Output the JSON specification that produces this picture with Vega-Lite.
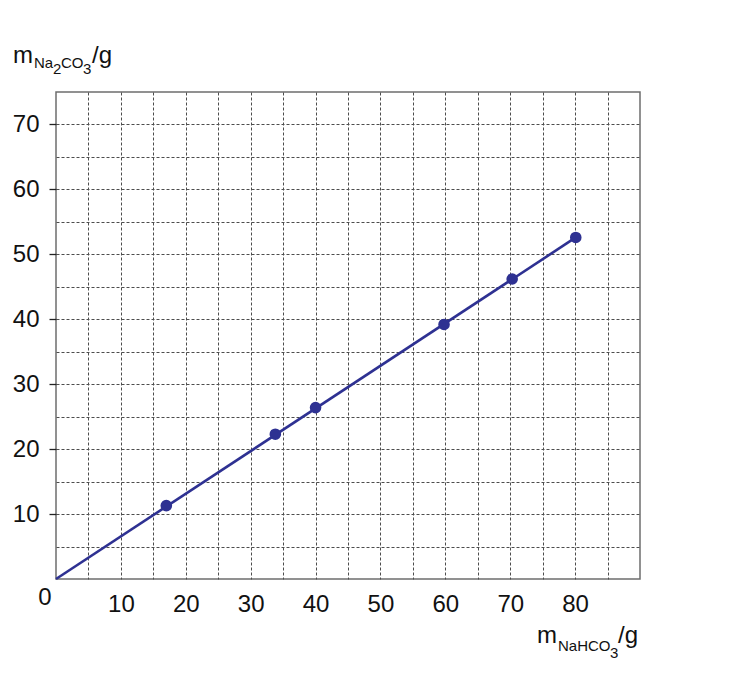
{
  "$schema": "https://vega.github.io/schema/vega-lite/v6.json",
  "width": 584,
  "height": 487,
  "autosize": "none",
  "padding": {"left": 56, "top": 92, "right": 116, "bottom": 113},
  "background": "white",
  "config": {
    "font": "Liberation Sans",
    "view": {"stroke": "#6d6d6d", "strokeWidth": 1.5},
    "text": {"font": "Liberation Sans", "color": "#111111", "align": "left", "baseline": "alphabetic"}
  },
  "datasets": {
    "points": [
      {"nahco3": 17.0, "na2co3": 11.3},
      {"nahco3": 33.8, "na2co3": 22.3},
      {"nahco3": 40.0, "na2co3": 26.4},
      {"nahco3": 59.8, "na2co3": 39.2},
      {"nahco3": 70.3, "na2co3": 46.2},
      {"nahco3": 80.1, "na2co3": 52.6}
    ],
    "fit": [
      {"nahco3": 0, "na2co3": 0},
      {"nahco3": 80.1, "na2co3": 52.6}
    ]
  },
  "resolve": {"axis": {"x": "independent", "y": "independent"}},
  "layer": [
    {
      "data": {"name": "points"},
      "mark": {"type": "circle", "opacity": 0},
      "encoding": {
        "x": {
          "field": "nahco3",
          "type": "quantitative",
          "scale": {"domain": [0, 90], "nice": false},
          "axis": {
            "title": null,
            "orient": "bottom",
            "values": [5, 10, 15, 20, 25, 30, 35, 40, 45, 50, 55, 60, 65, 70, 75, 80, 85],
            "labels": false,
            "ticks": false,
            "domain": false,
            "grid": true,
            "gridColor": "#4d4d4d",
            "gridDash": [3, 2],
            "gridWidth": 1
          }
        },
        "y": {
          "field": "na2co3",
          "type": "quantitative",
          "scale": {"domain": [0, 75], "nice": false},
          "axis": {
            "title": null,
            "orient": "left",
            "values": [5, 10, 15, 20, 25, 30, 35, 40, 45, 50, 55, 60, 65, 70],
            "labels": false,
            "ticks": false,
            "domain": false,
            "grid": true,
            "gridColor": "#4d4d4d",
            "gridDash": [3, 2],
            "gridWidth": 1
          }
        }
      }
    },
    {
      "data": {"name": "fit"},
      "mark": {"type": "line", "color": "#2e3192", "strokeWidth": 2.6},
      "encoding": {
        "x": {
          "field": "nahco3",
          "type": "quantitative",
          "axis": {
            "title": null,
            "orient": "bottom",
            "values": [10, 20, 30, 40, 50, 60, 70, 80],
            "labelFontSize": 24,
            "labelColor": "#111111",
            "labelPadding": 13,
            "labelFont": "Liberation Sans",
            "ticks": false,
            "domain": false,
            "grid": false
          }
        },
        "y": {
          "field": "na2co3",
          "type": "quantitative",
          "axis": {
            "title": null,
            "orient": "left",
            "values": [10, 20, 30, 40, 50, 60, 70],
            "labelFontSize": 24,
            "labelColor": "#111111",
            "labelPadding": 10,
            "labelFont": "Liberation Sans",
            "tickSize": 7,
            "tickColor": "#222222",
            "tickWidth": 1.3,
            "domain": false,
            "grid": false
          }
        }
      }
    },
    {
      "data": {"name": "points"},
      "mark": {"type": "circle", "color": "#2e3192", "opacity": 1, "size": 135},
      "encoding": {
        "x": {"field": "nahco3", "type": "quantitative", "axis": null},
        "y": {"field": "na2co3", "type": "quantitative", "axis": null}
      }
    },
    {
      "data": {"values": [{}]},
      "mark": {"type": "text", "text": "0", "fontSize": 24, "align": "center", "baseline": "top", "dx": -11, "dy": 7},
      "encoding": {
        "x": {"datum": 0, "type": "quantitative", "axis": null},
        "y": {"datum": 0, "type": "quantitative", "axis": null}
      }
    },
    {
      "data": {"values": [{}]},
      "layer": [
        {"mark": {"type": "text", "text": "m", "fontSize": 24, "dx": -103, "dy": 64}},
        {"mark": {"type": "text", "text": "NaHCO", "fontSize": 15, "dx": -82, "dy": 72}},
        {"mark": {"type": "text", "text": "3", "fontSize": 15, "dx": -30, "dy": 79}},
        {"mark": {"type": "text", "text": "/g", "fontSize": 24, "dx": -22, "dy": 64}}
      ],
      "encoding": {
        "x": {"datum": 90, "type": "quantitative", "axis": null},
        "y": {"datum": 0, "type": "quantitative", "axis": null}
      }
    },
    {
      "data": {"values": [{}]},
      "layer": [
        {"mark": {"type": "text", "text": "m", "fontSize": 24, "dx": -43, "dy": -29}},
        {"mark": {"type": "text", "text": "Na", "fontSize": 15, "dx": -22, "dy": -24}},
        {"mark": {"type": "text", "text": "2", "fontSize": 15, "dx": -3, "dy": -18}},
        {"mark": {"type": "text", "text": "CO", "fontSize": 15, "dx": 5, "dy": -24}},
        {"mark": {"type": "text", "text": "3", "fontSize": 15, "dx": 27, "dy": -18}},
        {"mark": {"type": "text", "text": "/g", "fontSize": 24, "dx": 36, "dy": -29}}
      ],
      "encoding": {
        "x": {"datum": 0, "type": "quantitative", "axis": null},
        "y": {"datum": 75, "type": "quantitative", "axis": null}
      }
    }
  ]
}
